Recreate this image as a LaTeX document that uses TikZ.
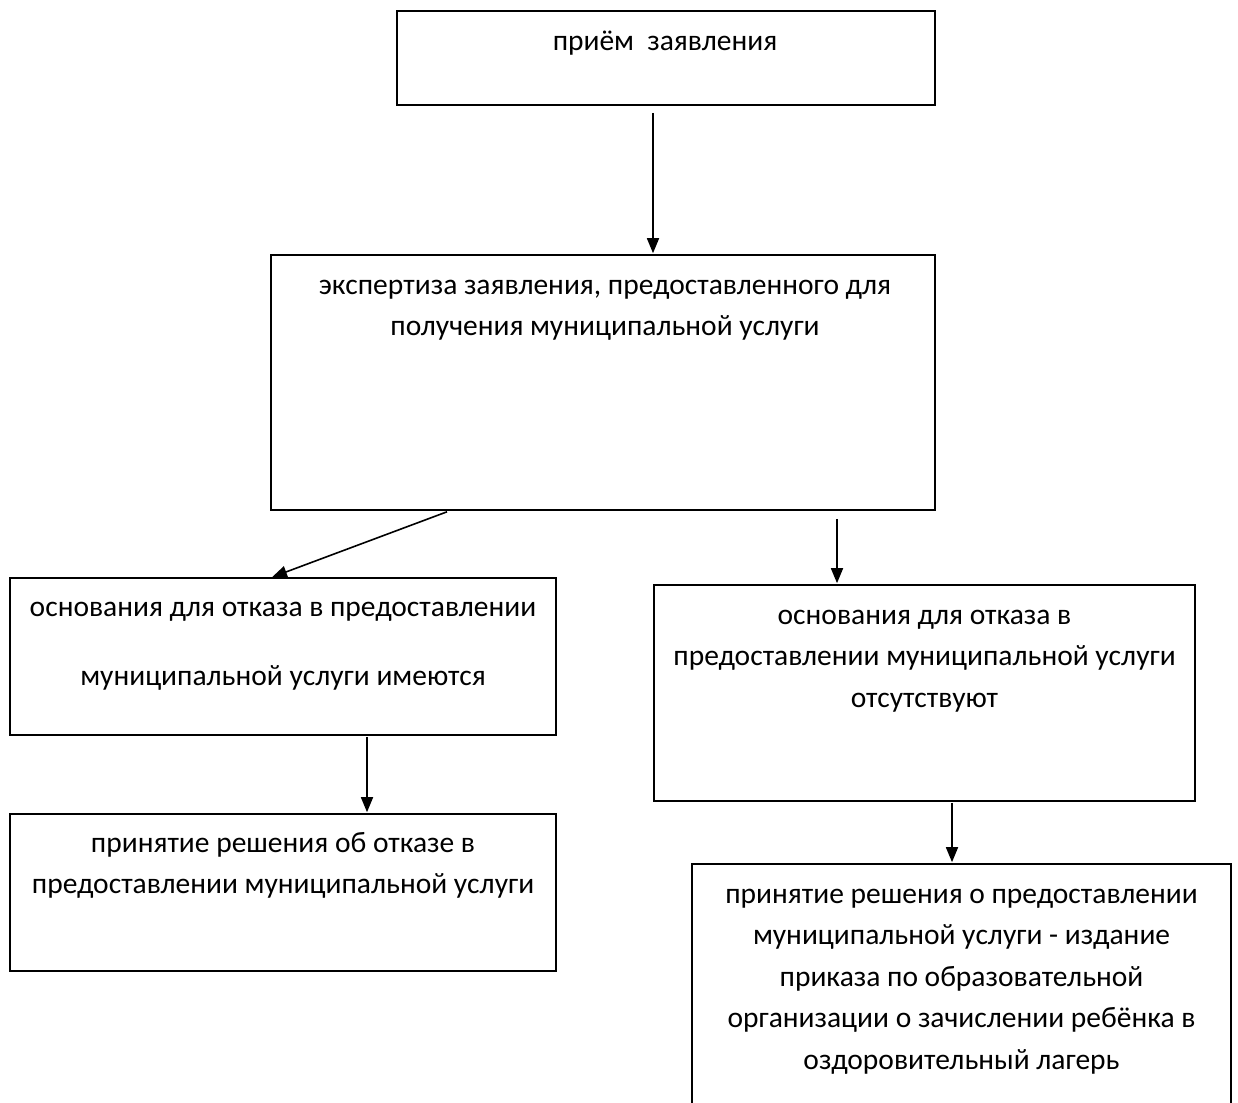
\documentclass[tikz,border=0pt]{standalone}
\usepackage{fontspec}
\setmainfont{Carlito}
\usetikzlibrary{arrows.meta}

\begin{document}
\begin{tikzpicture}
[x=1pt,y=-1pt,line width=1.6pt,%
  stage/.style={shape=rectangle,draw,inner sep=0pt},%
  caption/.style={anchor=base,align=center,inner sep=0pt,
    font=\fontsize{29.5}{41.5}\selectfont},%
  flow/.style={-{Triangle[length=15pt,width=12pt]}}]
\useasboundingbox (0,0) rectangle (1238,1102);
\begin{scope}
\clip (0,0) rectangle (1238,1102);
% boxes
\node[stage,minimum width=538pt,minimum height=94pt] (intake) at (666,58) {};
\node[stage,minimum width=664pt,minimum height=255pt] (review) at (603,382.5) {};
\node[stage,minimum width=546pt,minimum height=157pt] (grounds) at (283,656.5) {};
\node[stage,minimum width=541pt,minimum height=216pt] (nogrounds) at (924.5,693) {};
\node[stage,minimum width=546pt,minimum height=157pt] (refusal) at (283,892.5) {};
\node[stage,minimum width=539pt,minimum height=260pt] (grant) at (961.5,994) {};
\end{scope}
% texts (base = baseline of the last line)
\node[caption] (intaketext) at ([shift={(-1,40)}]intake.north) {приём\ \ заявления};
\node[caption] (reviewtext) at ([shift={(2,81.5)}]review.north)
  {экспертиза заявления, предоставленного для\\получения муниципальной услуги};
\node[caption] (groundstext) at ([shift={(0,108)}]grounds.north)
  {основания для отказа в предоставлении\\[27.5pt]муниципальной услуги имеются};
\node[caption] (nogroundstext) at ([shift={(0,123)}]nogrounds.north)
  {основания для отказа в\\предоставлении муниципальной услуги\\отсутствуют};
\node[caption] (refusaltext) at ([shift={(0,80.5)}]refusal.north)
  {принятие решения об отказе в\\предоставлении муниципальной услуги};
\node[caption] (granttext) at ([shift={(0,206)}]grant.north)
  {принятие решения о предоставлении\\муниципальной услуги - издание\\приказа по образовательной\\организации о зачислении ребёнка в\\оздоровительный лагерь};
% arrows
\draw[flow] ([shift={(-13,7)}]intake.south) -- ([shift={(-13,-1)}]intake.south |- review.north);
\draw[flow] ([shift={(-156,1)}]review.south) -- ([shift={(-11,0)}]grounds.north);
\draw[flow] ([shift={(234,8)}]review.south) -- ([shift={(234,-1)}]review.south |- nogrounds.north);
\draw[flow] ([shift={(84,1)}]grounds.south) -- ([shift={(84,-1)}]grounds.south |- refusal.north);
\draw[flow] ([shift={(27.5,1)}]nogrounds.south) -- ([shift={(27.5,-1)}]nogrounds.south |- grant.north);
\end{tikzpicture}
\end{document}
